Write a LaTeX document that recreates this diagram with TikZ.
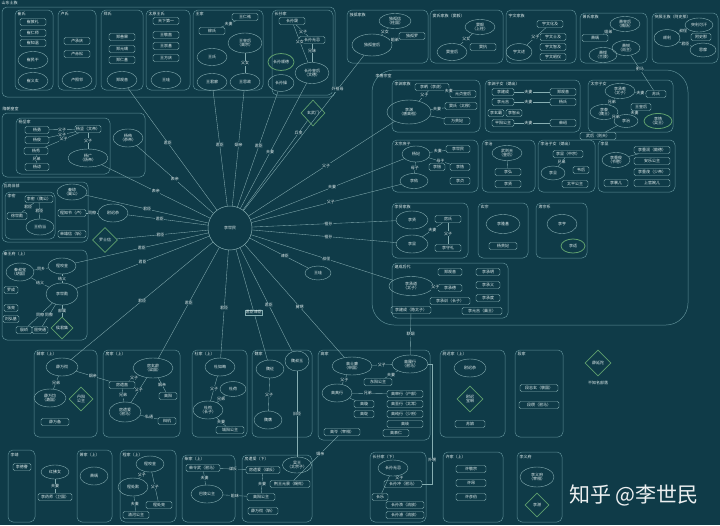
\documentclass[tikz,border=0pt]{standalone}
\usepackage{fontspec}
\usepackage{tikz}
\usetikzlibrary{
    shapes.geometric,
    positioning
}
\newfontfamily\cjk{Noto Sans CJK SC}
\newcommand\fsm{\cjk\fontsize{4}{4.8}\selectfont}
\definecolor{bgc}{HTML}{0F3B48}
\definecolor{linec}{HTML}{86AEB2}
\definecolor{grpc}{HTML}{5C8D95}
\definecolor{txtc}{HTML}{E2EEEE}
\definecolor{grnc}{HTML}{5E9F6E}
\tikzset{
    grp/.style={draw=grpc, line width=0.5pt, rounded corners=5pt},
    ttl/.style={anchor=west, text=txtc, font=\fsm, inner sep=0.5pt},
    ell/.style={ellipse, draw=linec, line width=0.4pt, minimum width=30pt, minimum height=17pt, inner sep=0.3pt, text=txtc, align=center, font=\fsm},
    gell/.style={ell, draw=grnc, line width=0.8pt},
    bx/.style={rectangle, rounded corners=1.5pt, draw=linec, line width=0.4pt, minimum width=26pt, minimum height=7pt, inner sep=0.6pt, text=txtc, align=center, font=\fsm},
    dia/.style={diamond, draw=grnc, line width=0.7pt, minimum width=25pt, minimum height=25pt, inner sep=0pt, text=txtc, align=center, font=\fsm},
    lnk/.style={draw=linec, line width=0.35pt},
    rel/.style={fill=bgc, text=txtc, inner sep=0.5pt, font=\fsm}
}

\begin{document}
\begin{tikzpicture}[x=1pt, y=-1pt]
    \fill[bgc] (0,0) rectangle (720,525);
    \useasboundingbox (0,0) rectangle (720,525);

    % top band
    \draw[grp] (2,7) rectangle (335,97);
    \node[ttl] at (1,3) {山东士族};
    \draw[grp] (15,10) rectangle (53,90);
    \node[ttl] at (17,14) {崔氏};
    \draw[grp] (58,10) rectangle (96,90);
    \node[ttl] at (60,14) {卢氏};
    \draw[grp] (101,10) rectangle (143,90);
    \node[ttl] at (103,14) {郑氏};
    \draw[grp] (146,10) rectangle (190,90);
    \node[ttl] at (148,14) {太原王氏};
    \draw[grp] (193,10) rectangle (263,90);
    \node[ttl] at (195,14) {王家};
    \draw[grp] (272,10) rectangle (333,95);
    \node[ttl] at (274,14) {长孙家};

    \draw[grp] (347,10) rectangle (428,63);
    \node[ttl] at (349,15) {独孤家族};
    \draw[grp] (430,10) rectangle (503,63);
    \node[ttl] at (432,16) {窦氏家族（窦毅）};
    \draw[grp] (506,10) rectangle (576,63);
    \node[ttl] at (508,16) {宇文家族};
    \draw[grp] (580,13) rectangle (647,63);
    \node[ttl] at (582,17) {萧氏家族};
    \draw[grp] (652,13) rectangle (718,63);
    \node[ttl] at (654,17) {突厥王族（阿史那）};

    % 李唐宗室
    \draw[grp, rounded corners=22pt] (372,70) rectangle (688,325);
    \node[ttl] at (375,76) {李唐宗室};
    \draw[grp] (392,80) rectangle (480,132);
    \node[ttl] at (394,84) {李渊家族};
    \draw[grp] (485,80) rectangle (580,132);
    \node[ttl] at (487,84) {李渊子女（嫡出）};
    \draw[grp] (588,80) rectangle (673,132);
    \node[ttl] at (590,84) {太宗子女};
    \draw[grp] (392,140) rectangle (478,192);
    \node[ttl] at (394,144) {太宗庶子};
    \draw[grp] (482,140) rectangle (535,192);
    \node[ttl] at (484,144) {李治};
    \draw[grp] (538,140) rectangle (595,192);
    \node[ttl] at (540,144) {李治子女（嫡出）};
    \draw[grp] (598,140) rectangle (675,192);
    \node[ttl] at (600,144) {李显};
    \draw[grp] (392,203) rectangle (468,258);
    \node[ttl] at (394,207) {李贤家族};
    \draw[grp] (478,203) rectangle (528,258);
    \node[ttl] at (480,207) {玄宗};
    \draw[grp] (536,203) rectangle (587,258);
    \node[ttl] at (538,207) {肃宗系};
    \draw[grp] (392,263) rectangle (508,318);
    \node[ttl] at (394,267) {建成后代};

    % left side
    \draw[grp] (2,113) rectangle (145,177);
    \node[ttl] at (2,109) {隋朝皇室};
    \draw[grp] (16,118) rectangle (110,174);
    \node[ttl] at (18,122) {杨坚家};
    \draw[grp] (2,182) rectangle (88,242);
    \node[ttl] at (3,186) {瓦岗旧部};
    \draw[grp] (5,192) rectangle (55,239);
    \node[ttl] at (7,196) {李密};
    \draw[grp] (2,250) rectangle (87,340);
    \node[ttl] at (3,254) {秦王府（上）};

    % bottom rows
    \draw[grp] (34,350) rectangle (97,437);
    \node[ttl] at (36,354) {薛家（上）};
    \draw[grp] (103,350) rectangle (180,437);
    \node[ttl] at (105,354) {房家（上）};
    \draw[grp] (192,350) rectangle (247,437);
    \node[ttl] at (194,354) {杜家（上）};
    \draw[grp] (252,350) rectangle (312,437);
    \node[ttl] at (254,354) {魏家};
    \draw[grp] (318,350) rectangle (430,440);
    \node[ttl] at (320,354) {高家};
    \draw[grp] (440,350) rectangle (505,437);
    \node[ttl] at (442,354) {尉迟家（上）};
    \draw[grp] (515,350) rectangle (563,437);
    \node[ttl] at (517,354) {段家};
    \draw[grp] (8,450) rectangle (35,522);
    \node[ttl] at (10,455) {李靖};
    \draw[grp] (77,450) rectangle (112,522);
    \node[ttl] at (79,455) {萧家（上）};
    \draw[grp] (120,450) rectangle (176,522);
    \node[ttl] at (122,455) {程家（上）};
    \draw[grp] (182,455) rectangle (235,522);
    \node[ttl] at (184,459) {柴家（上）};
    \draw[grp] (242,455) rectangle (312,522);
    \node[ttl] at (244,459) {房遗爱（下）};
    \draw[grp] (370,452) rectangle (426,522);
    \node[ttl] at (372,457) {长孙家（下）};
    \draw[grp] (443,452) rectangle (503,522);
    \node[ttl] at (445,457) {许家（上）};
    \draw[grp] (517,452) rectangle (562,522);
    \node[ttl] at (519,457) {李义府};

    % nodes
    \node[circle, draw=linec, line width=0.5pt, minimum size=44pt, text=txtc, font=\fsm] (lsm) at (230,228) {李世民};

    \node[bx] (cui1) at (33,22) {崔敦礼};
    \node[bx] (cui2) at (33,33) {崔仁师};
    \node[bx] (cui3) at (33,43) {崔知温};
    \node[ell] (cui4) at (33,60) {崔民干};
    \node[ell] (cui5) at (33,81) {崔义玄};
    \node[bx] (lu1) at (77,41) {卢承庆};
    \node[bx] (lu2) at (77,54) {卢赤松};
    \node[ell] (lu3) at (77,80) {卢照邻};
    \node[bx] (zh1) at (122,37) {郑善果};
    \node[bx] (zh2) at (122,49) {郑元璹};
    \node[bx] (zh3) at (122,60) {郑仁基};
    \node[ell] (zh4) at (122,80) {郑观音};
    \node[bx] (wa1) at (166,21) {天下第一};
    \node[bx] (wa2) at (166,35) {王敬直};
    \node[bx] (wa3) at (166,46) {王崇基};
    \node[bx] (wa4) at (166,58) {王方庆};
    \node[ell] (wa5) at (166,80) {王珪};
    \node[bx] (wj1) at (245,17) {王仁祐};
    \node[bx] (wj2) at (212,31) {柳氏};
    \node[ell, minimum width=34pt, minimum height=20pt] (wj3) at (245,43) {王皇后\\（高宗）};
    \node[ell] (wj4) at (245,82) {王思政};
    \node[ell] (wj5) at (212,57) {王氏};
    \node[ell] (wj6) at (212,82) {王君廓};
    \node[bx] (zs1) at (292,21) {长孙晟};
    \node[bx] (zs2) at (312,40) {长孙无忌};
    \node[ell, minimum width=34pt, minimum height=21pt] (zs3) at (312,73) {长孙皇后\\（文德）};
    \node[gell, minimum width=26pt] (zs4) at (281,62) {长孙顺德};
    \node[ell, minimum width=26pt] (zs5) at (281,83) {长孙操};

    \node[ell, minimum width=32pt, minimum height=15pt] (dg1) at (395,21) {独孤信\\（柱国）};
    \node[ell, minimum width=40pt, minimum height=22pt] (dg2) at (372,45) {独孤皇后};
    \node[bx] (dg3) at (412,36) {独孤罗};
    \node[ell, minimum width=30pt, minimum height=15pt] (do1) at (480,27) {窦毅\\（上柱）};
    \node[ell] (do2) at (452,52) {窦皇后};
    \node[bx] (do3) at (483,47) {窦抗};
    \node[ell, minimum width=26pt] (yw1) at (519,52) {宇文述};
    \node[bx] (yw2) at (550,24) {宇文化及};
    \node[bx] (yw3) at (553,37) {宇文士及};
    \node[bx] (yw4) at (553,47) {宇文智及};
    \node[bx] (yw5) at (553,57) {宇文昭仪};
    \node[ell, minimum width=30pt, minimum height=15pt] (xi1) at (625,24) {萧皇后\\（隋炀）};
    \node[bx] (xi2) at (595,38) {萧瑀};
    \node[ell, minimum width=28pt, minimum height=15pt] (xi3) at (626,48) {萧锐\\（尚主）};
    \node[ell, minimum width=28pt, minimum height=15pt] (xi4) at (603,55) {萧铿\\（兰陵）};
    \node[ell, minimum width=26pt] (tj1) at (667,38) {颉利};
    \node[ell, minimum width=28pt, minimum height=14pt] (tj2) at (699,25) {突利可汗};
    \node[bx, minimum width=20pt] (tj3) at (701,37) {阿史那};
    \node[ell, minimum width=26pt, minimum height=14pt] (tj4) at (703,50) {思摩};

    \node[bx, minimum width=34pt] (ly1) at (432,87) {李昞（李虎）};
    \node[ell, minimum width=44pt, minimum height=24pt] (ly2) at (409,112) {李渊\\（唐高祖）};
    \node[bx] (ly3) at (463,94) {元贞皇后};
    \node[bx, minimum width=32pt] (ly4) at (461,106) {窦氏（太穆）};
    \node[bx] (ly5) at (457,121) {万贵妃};
    \node[bx, minimum width=22pt] (lz1) at (503,92) {李建成};
    \node[bx, minimum width=22pt] (lz2) at (503,102) {李元吉};
    \node[bx, minimum width=16pt] (lz3) at (496,113) {李玄霸};
    \node[bx, minimum width=16pt] (lz4) at (514,113) {李智云};
    \node[bx, minimum width=22pt] (lz5) at (503,123) {平阳公主};
    \node[bx, minimum width=26pt] (lz6) at (563,92) {郑观音};
    \node[bx, minimum width=26pt] (lz7) at (563,102) {杨氏};
    \node[bx, minimum width=26pt] (lz8) at (563,123) {柴绍};
    \node[ell, minimum width=30pt, minimum height=15pt] (sz1) at (620,91) {李承乾\\（太子）};
    \node[bx, minimum width=20pt] (sz2) at (656,94) {苏氏};
    \node[ell, minimum width=28pt, minimum height=15pt] (sz3) at (604,112) {李泰\\（魏王）};
    \node[ell, minimum width=24pt, minimum height=13pt] (sz4) at (626,121) {李治};
    \node[gell, minimum width=28pt, minimum height=15pt] (sz5) at (658,121) {李恪\\（吴王）};
    \node[bx, minimum width=20pt] (sz6) at (641,107) {王皇后};
    \node[bx, minimum width=36pt] (wh) at (598,136) {武后（则天）};

    \node[ell, minimum width=28pt, minimum height=16pt] (ld1) at (416,154) {杨妃};
    \node[bx, minimum width=24pt] (ld2) at (458,149) {李世民};
    \node[bx, minimum width=16pt] (ld3) at (437,167) {李愔};
    \node[bx, minimum width=20pt] (ld4) at (460,167) {李恪};
    \node[ell, minimum width=28pt, minimum height=15pt] (ld5) at (414,181) {李佑};
    \node[bx, minimum width=20pt] (ld6) at (460,181) {李贞};
    \node[ell, minimum width=30pt, minimum height=15pt] (le1) at (507,153) {武则天\\（皇后）};
    \node[bx] (le2) at (508,172) {李弘};
    \node[bx] (le3) at (508,184) {李贤};
    \node[bx, minimum width=30pt] (lf1) at (568,154) {李显（中宗）};
    \node[ell, minimum width=24pt, minimum height=14pt] (lf2) at (553,173) {李旦};
    \node[bx, minimum width=16pt] (lf3) at (581,170) {韦后};
    \node[bx, minimum width=26pt] (lf4) at (575,184) {太平公主};
    \node[ell, minimum width=28pt, minimum height=15pt] (lg1) at (616,160) {李重俊\\（节愍）};
    \node[bx, minimum width=36pt] (lg2) at (652,150) {李重润（懿德）};
    \node[bx, minimum width=36pt] (lg3) at (652,161) {安乐公主};
    \node[bx, minimum width=36pt] (lg4) at (652,172) {李重茂（少帝）};
    \node[bx, minimum width=24pt] (lg5) at (616,183) {李裹儿};
    \node[bx, minimum width=36pt] (lg6) at (652,183) {上官婉儿};
    \node[ell, minimum width=32pt, minimum height=18pt] (lh1) at (412,220) {李贤};
    \node[ell, minimum width=32pt, minimum height=18pt] (lh2) at (412,244) {李显};
    \node[bx, minimum width=26pt] (lh3) at (448,219) {房氏};
    \node[bx, minimum width=26pt] (lh4) at (448,248) {李守礼};
    \node[ell, minimum width=34pt, minimum height=19pt] (li1) at (503,224) {李隆基};
    \node[bx, minimum width=28pt] (li2) at (503,246) {杨贵妃};
    \node[ell, minimum width=30pt, minimum height=19pt] (lj1) at (562,224) {李亨};
    \node[gell, minimum width=24pt, minimum height=14pt] (lj2) at (573,246) {李适};
    \node[ell, minimum width=44pt, minimum height=19pt] (lk1) at (411,286) {李承道\\（太子）};
    \node[bx, minimum width=24pt] (lk2) at (450,272) {郑观音};
    \node[bx, minimum width=24pt] (lk3) at (450,288) {李承德};
    \node[bx, minimum width=40pt] (lk4) at (450,301) {李承训（长子）};
    \node[bx, minimum width=40pt] (lk5) at (411,310) {李建成（隐太子）};
    \node[bx, minimum width=24pt] (lk6) at (488,272) {李承明};
    \node[bx, minimum width=24pt] (lk7) at (488,285) {李承义};
    \node[bx, minimum width=24pt] (lk8) at (488,298) {李承度};
    \node[bx, minimum width=40pt] (lk9) at (482,311) {李元吉（巢王）};

    \node[bx, minimum width=24pt] (sl1) at (37,130) {杨勇};
    \node[bx, minimum width=24pt] (sl2) at (37,140) {杨俊};
    \node[bx, minimum width=24pt] (sl3) at (36,151) {杨秀};
    \node[bx, minimum width=24pt] (sl4) at (37,167) {杨谅};
    \node[bx, minimum width=26pt] (sl5) at (88,129) {杨坚（文帝）};
    \node[ell, minimum width=40pt, minimum height=18pt] (sl6) at (88,158) {杨广\\（炀帝）};
    \node[ell, minimum width=30pt, minimum height=18pt] (sl7) at (128,138) {杨侑\\（恭帝）};
    \node[bx, minimum width=28pt] (wg1) at (39,199) {李密（魏公）};
    \node[bx, minimum width=20pt] (wg2) at (17,216) {徐世勣};
    \node[ell, minimum width=28pt, minimum height=16pt] (wg3) at (40,227) {王伯当};
    \node[ell, minimum width=30pt, minimum height=16pt] (wg4) at (72,192) {秦琼\\（翼公）};
    \node[bx, minimum width=28pt] (wg5) at (72,213) {程知节（卢）};
    \node[bx, minimum width=28pt] (wg6) at (72,234) {单雄信（斩）};
    \node[ell, minimum width=30pt, minimum height=18pt] (wg7) at (113,213) {尉迟恭};
    \node[dia] (wg8) at (105,240) {罗士信};
    \node[ell, minimum width=28pt, minimum height=16pt] (qw1) at (62,266) {程咬金};
    \node[ell, minimum width=28pt, minimum height=18pt] (qw2) at (20,272) {秦叔宝\\（胡国）};
    \node[ell, minimum width=32pt, minimum height=22pt] (qw3) at (62,294) {李世勣};
    \node[bx, minimum width=14pt] (qw4) at (11,290) {罗成};
    \node[bx, minimum width=14pt] (qw5) at (11,308) {张亮};
    \node[bx, minimum width=16pt] (qw6) at (11,319) {刘弘基};
    \node[bx, minimum width=16pt] (qw7) at (24,330) {殷峤};
    \node[bx, minimum width=16pt] (qw8) at (40,330) {屈突通};
    \node[dia, minimum width=22pt, minimum height=22pt] (qw9) at (62,328) {侯君集};

    \node[ell, minimum width=26pt, minimum height=14pt] (wq) at (318,273) {王珪};
    \node[dia, minimum width=24pt, minimum height=26pt] (qd) at (313,113) {玄武门};

    \node[ell, minimum width=32pt, minimum height=18pt] (xw1) at (62,367) {薛万彻};
    \node[ell, minimum width=32pt, minimum height=18pt] (xw2) at (50,398) {薛万均\\（潞国）};
    \node[dia, minimum width=24pt, minimum height=24pt] (xw3) at (81,399) {丹阳\\公主};
    \node[bx, minimum width=28pt] (xw4) at (55,422) {薛万备};
    \node[ell, minimum width=40pt, minimum height=20pt] (fx1) at (153,368) {房玄龄\\（梁国）};
    \node[bx, minimum width=26pt] (fx2) at (122,385) {房遗直};
    \node[ell, minimum width=32pt, minimum height=20pt] (fx3) at (125,412) {房遗爱\\（驸马）};
    \node[bx, minimum width=18pt] (fx4) at (168,396) {高阳};
    \node[bx, minimum width=18pt] (fx5) at (167,421) {辩机};
    \node[ell, minimum width=30pt, minimum height=18pt] (dr1) at (220,367) {杜如晦};
    \node[ell, minimum width=26pt, minimum height=15pt] (dr2) at (233,389) {杜荷};
    \node[ell, minimum width=30pt, minimum height=18pt] (dr3) at (208,410) {杜构\\（长子）};
    \node[bx, minimum width=28pt] (dr4) at (230,430) {城阳公主};
    \node[ell, minimum width=28pt, minimum height=18pt] (wz1) at (270,369) {魏征};
    \node[ell, minimum width=24pt, minimum height=20pt] (wz2) at (297,361) {魏叔玉};
    \node[ell, minimum width=28pt, minimum height=18pt] (wz3) at (268,420) {魏膺};
    \node[ell, minimum width=40pt, minimum height=18pt] (gs1) at (352,366) {高士廉\\（申国）};
    \node[ell, minimum width=36pt, minimum height=18pt] (gs2) at (410,364) {高履行\\（驸马）};
    \node[bx, minimum width=28pt] (gs3) at (378,382) {东阳公主};
    \node[ell, minimum width=30pt, minimum height=18pt] (gs4) at (337,393) {高真行};
    \node[bx, minimum width=36pt] (gs5) at (405,394) {高审行（户部）};
    \node[bx, minimum width=36pt] (gs6) at (405,404) {高至行（太常）};
    \node[bx, minimum width=36pt] (gs7) at (405,414) {高纯行（少府）};
    \node[bx, minimum width=36pt] (gs8) at (405,424) {高岐};
    \node[bx, minimum width=20pt] (gs9) at (364,404) {高璇};
    \node[bx, minimum width=20pt] (gs10) at (364,414) {高琁};
    \node[bx, minimum width=36pt] (gs11) at (342,432) {高岑（宰相）};
    \node[bx, minimum width=26pt] (gs12) at (396,433) {高表仁};
    \node[ell, minimum width=32pt, minimum height=18pt] (yc1) at (470,368) {尉迟恭};
    \node[dia, minimum width=26pt, minimum height=26pt] (yc2) at (470,399) {尉迟\\宝琳};
    \node[bx, minimum width=30pt] (yc3) at (470,424) {苏娘};
    \node[bx, minimum width=38pt] (dz1) at (539,388) {段志玄（褒国）};
    \node[bx, minimum width=40pt] (dz2) at (539,405) {段瓒（驸马）};
    \node[dia, minimum width=26pt, minimum height=26pt] (ps) at (598,363) {薛延陀};
    \node[text=txtc, font=\fsm, below=1pt of ps] (psl) {不知名部落};

    \node[bx, minimum width=18pt] (v1) at (22,467) {李德謇};
    \node[ell, minimum width=28pt, minimum height=14pt] (v2) at (55,472) {红拂女};
    \node[bx, minimum width=34pt] (v3) at (55,497) {李药师（卫国）};
    \node[ell, minimum width=28pt, minimum height=18pt] (v4) at (94,476) {萧瑀};
    \node[ell, minimum width=28pt, minimum height=16pt] (v5) at (150,464) {程咬金};
    \node[ell, minimum width=30pt, minimum height=18pt] (v6) at (133,487) {程处默};
    \node[bx, minimum width=26pt] (v7) at (159,505) {程处亮};
    \node[bx, minimum width=26pt] (v8) at (136,515) {清河公主};
    \node[bx, minimum width=34pt] (v9) at (203,468) {柴令武（驸马）};
    \node[ell, minimum width=32pt, minimum height=18pt] (v10) at (207,494) {巴陵公主};
    \node[bx, minimum width=34pt] (v11) at (263,470) {房遗爱（谋反）};
    \node[bx, minimum width=28pt] (v12) at (261,497) {高阳公主};
    \node[bx, minimum width=40pt] (v13) at (290,484) {荆王元景（赐死）};
    \node[bx, minimum width=30pt] (v14) at (263,511) {薛万彻（斩）};
    \node[ell, minimum width=28pt, minimum height=16pt] (v15) at (297,465) {吴王\\（太宗子）};
    \node[ell, minimum width=30pt, minimum height=16pt] (v16) at (393,468) {长孙无忌};
    \node[bx, minimum width=38pt] (v17) at (403,484) {长孙冲（驸马）};
    \node[bx, minimum width=16pt] (v18) at (380,497) {长乐};
    \node[bx, minimum width=38pt] (v19) at (405,505) {长孙涣（流放）};
    \node[bx, minimum width=38pt] (v20) at (405,515) {长孙濬（流放）};
    \node[bx, minimum width=30pt] (v21) at (471,469) {许敬宗};
    \node[bx, minimum width=30pt] (v22) at (471,483) {许昂};
    \node[bx, minimum width=30pt] (v23) at (471,497) {许彦伯};
    \node[ell, minimum width=34pt, minimum height=20pt] (v24) at (537,477) {李义府\\（宰相）};
    \node[dia, minimum width=24pt, minimum height=24pt] (v25) at (537,505) {李湛};

    \node[text=white, font=\cjk\fontsize{21}{24}\selectfont, opacity=0.92] (wm) at (634,495) {知乎 @李世民};

    % links inside groups
    \draw[lnk] (wj2) -- (wj1) node[rel, pos=0.5] {夫妻};
    \draw[lnk] (wj3) -- (wj4) node[rel, pos=0.5] {父女};
    \draw[lnk] (zs1) -- (zs2) node[rel, pos=0.6] {父子};
    \draw[lnk] (zs2) -- (zs3) node[rel, pos=0.4] {兄妹};
    \draw[lnk] (zs1) -- (zs3) node[rel, pos=0.45] {父女};
    \draw[lnk] (dg1) -- (dg2) node[rel, pos=0.5] {父女};
    \draw[lnk] (dg2) -- (dg3) node[rel, pos=0.5] {姐弟};
    \draw[lnk] (do1) -- (do2) node[rel, pos=0.5] {父女};
    \draw[lnk] (yw1) -- (yw2) node[rel, pos=0.45] {父子};
    \draw[lnk] (xi1) -- (xi2) node[rel, pos=0.5] {姐弟};
    \draw[lnk] (tj1) -- (tj2) node[rel, pos=0.5] {叔侄};
    \draw[lnk] (tj1) -- (tj4) node[rel, pos=0.5] {君臣};
    \draw[lnk] (xi3) -- (sz2) node[rel, pos=0.4] {驸马};
    \draw[lnk] (ly1) -- (ly2) node[rel, pos=0.45] {父子};
    \draw[lnk] (ly1) -- (ly3) node[rel, pos=0.4] {夫妻};
    \draw[lnk] (ly2) -- (ly4) node[rel, pos=0.45] {夫妻};
    \draw[lnk] (ly2) -- (ly5);
    \draw[lnk] (lz1) -- (lz6) node[rel, pos=0.4] {夫妻};
    \draw[lnk] (lz2) -- (lz7) node[rel, pos=0.4] {夫妻};
    \draw[lnk] (lz5) -- (lz8) node[rel, pos=0.4] {夫妻};
    \draw[lnk] (sz1) -- (sz2) node[rel, pos=0.5] {夫妻};
    \draw[lnk] (sz1) -- (sz3) node[rel, pos=0.5] {兄弟};
    \draw[lnk] (sz3) -- (sz4) node[rel, pos=0.5] {兄弟};
    \draw[lnk] (sz4) -- (sz6) node[rel, pos=0.5] {夫妻};
    \draw[lnk] (sz4) -- (wh);
    \draw[lnk] (ld1) -- (ld2) node[rel, pos=0.5] {夫妻};
    \draw[lnk] (ld1) -- (ld4) node[rel, pos=0.55] {母子};
    \draw[lnk] (ld1) -- (ld5) node[rel, pos=0.5] {母子};
    \draw[lnk] (le1) -- (le2);
    \draw[lnk] (lf1) -- (lf2) node[rel, pos=0.5] {兄弟};
    \draw[lnk] (lg1) -- (lg2);
    \draw[lnk] (lh2) -- (lh3) node[rel, pos=0.5] {夫妻};
    \draw[lnk] (lh3) -- (lh4) node[rel, pos=0.5] {父子};
    \draw[lnk] (lk1) -- (lk3) node[rel, pos=0.5] {父子};
    \draw[lnk] (lk5) -- (gs2) node[rel, pos=0.5] {联姻};
    \draw[lnk] (sl1) -- (sl5) node[rel, pos=0.5] {父子};
    \draw[lnk] (sl2) -- (sl5) node[rel, pos=0.5] {父子};
    \draw[lnk] (sl3) -- (sl5) node[rel, pos=0.55] {父子};
    \draw[lnk] (sl5) -- (sl6) node[rel, pos=0.5] {父子};
    \draw[lnk] (sl3) -- (sl4) node[rel, pos=0.5] {兄弟};
    \draw[lnk] (wg1) -- (wg2) node[rel, pos=0.5] {君臣};
    \draw[lnk] (wg1) -- (wg3) node[rel, pos=0.5] {君臣};
    \draw[lnk] (wg5) -- (wg7) node[rel, pos=0.5] {同僚};
    \draw[lnk] (qw2) -- (qw1) node[rel, pos=0.5] {同乡};
    \draw[lnk] (qw2) -- (qw3) node[rel, pos=0.5] {结义};
    \draw[lnk] (qw1) -- (qw3) node[rel, pos=0.5] {结义};
    \draw[lnk] (qw3) -- (qw7) node[rel, pos=0.5] {同僚};
    \draw[lnk] (qw3) -- (qw8) node[rel, pos=0.5] {同僚};
    \draw[lnk] (qw3) -- (qw9) node[rel, pos=0.5] {部属};
    \draw[lnk] (xw1) -- (xw2) node[rel, pos=0.5] {兄弟};
    \draw[lnk] (xw1) -- (fx2) node[rel, pos=0.5] {姻亲};
    \draw[lnk] (fx1) -- (fx2) node[rel, pos=0.5] {父子};
    \draw[lnk] (fx2) -- (fx3) node[rel, pos=0.5] {兄弟};
    \draw[lnk] (fx1) -- (fx3) node[rel, pos=0.5] {父子};
    \draw[lnk] (fx1) -- (fx4) node[rel, pos=0.5] {姻亲};
    \draw[lnk] (fx3) -- (fx5) node[rel, pos=0.5] {私通};
    \draw[lnk] (dr1) -- (dr3) node[rel, pos=0.5] {父子};
    \draw[lnk] (dr2) -- (dr3) node[rel, pos=0.5] {兄弟};
    \draw[lnk] (dr3) -- (dr4) node[rel, pos=0.5] {夫妻};
    \draw[lnk] (wz1) -- (wz3) node[rel, pos=0.5] {父子};
    \draw[lnk] (wz2) -- (v15) node[rel, pos=0.5] {旧臣};
    \draw[lnk] (gs1) -- (gs2) node[rel, pos=0.5] {父子};
    \draw[lnk] (gs2) -- (gs3) node[rel, pos=0.5] {夫妻};
    \draw[lnk] (gs1) -- (gs4) node[rel, pos=0.5] {父子};
    \draw[lnk] (gs4) -- (gs5) node[rel, pos=0.45] {兄弟};
    \draw[lnk] (gs4) -- (gs9);
    \draw[lnk] (gs2.east) -- ++(4,0) |- (v17.east) node[rel, pos=0.4] {外甥};
    \draw[lnk] (gs11) -- (v13) node[rel, pos=0.4] {姻亲};
    \draw[lnk] (v2) -- (v3) node[rel, pos=0.5] {夫妻};
    \draw[lnk] (v5) -- (v6) node[rel, pos=0.5] {父子};
    \draw[lnk] (v5) -- (v7) node[rel, pos=0.5] {父子};
    \draw[lnk] (v6) -- (v8) node[rel, pos=0.5] {夫妻};
    \draw[lnk] (v9) -- (v10) node[rel, pos=0.5] {夫妻};
    \draw[lnk] (v9) -- (v11) node[rel, pos=0.5] {谋反};
    \draw[lnk] (v10) -- (v12) node[rel, pos=0.5] {姐妹};
    \draw[lnk] (v11) -- (v12) node[rel, pos=0.5] {夫妻};
    \draw[lnk] (v16) -- (v17) node[rel, pos=0.5] {父子};
    \draw[lnk] (v16) -- (v18);

    % links from the centre
    \draw[lnk] (lsm) -- (zh4) node[rel, pos=0.55] {君臣};
    \draw[lnk] (lsm) -- (wj6) node[rel, pos=0.53] {君臣};
    \draw[lnk] (lsm) -- (wj4) node[rel, pos=0.53] {姻亲};
    \draw[lnk] (lsm) -- (zs5) node[rel, pos=0.53] {君臣};
    \draw[lnk] (lsm) -- (zs3) node[rel, pos=0.45] {夫妻};
    \draw[lnk] (lsm) -- (qd) node[rel, pos=0.86] {兵变};
    \draw[lnk] (lsm) -- (dg2) node[rel, pos=0.78] {外祖母};
    \draw[lnk] (lsm) -- (ly2) node[rel, pos=0.53] {父子};
    \draw[lnk] (lsm) -- (ld1) node[rel, pos=0.53] {夫妻};
    \draw[lnk] (lsm) -- (ld5) node[rel, pos=0.53] {父子};
    \draw[lnk] (lsm) -- (lh1) node[rel, pos=0.53] {祖孙};
    \draw[lnk] (lsm) -- (lh2) node[rel, pos=0.53] {祖孙};
    \draw[lnk] (lsm) -- (lk1) node[rel, pos=0.53] {叔侄};
    \draw[lnk] (lsm) -- (wq) node[rel, pos=0.6] {谏臣};
    \draw[lnk] (lsm) -- (gs1) node[rel, pos=0.55] {舅甥};
    \draw[lnk] (lsm) -- (wz2) node[rel, pos=0.55] {君臣};
    \draw[lnk] (lsm) -- (wz1) node[rel, draw=linec, pos=0.57] {君臣谏臣};
    \draw[lnk] (lsm) -- (dr1) node[rel, pos=0.54] {君臣};
    \draw[lnk] (lsm) -- (fx1) node[rel, pos=0.5] {君臣};
    \draw[lnk] (lsm) -- (xw1) node[rel, pos=0.5] {君臣};
    \draw[lnk] (lsm) -- (qw3) node[rel, pos=0.5] {君臣};
    \draw[lnk] (lsm) -- (qw1) node[rel, pos=0.5] {君臣};
    \draw[lnk] (lsm) -- (wg8) node[rel, pos=0.52] {君臣};
    \draw[lnk] (lsm) -- (wg7) node[rel, pos=0.6] {君臣};
    \draw[lnk] (lsm) -- (wg4) node[rel, pos=0.5] {君臣};
    \draw[lnk] (lsm) -- (sl6) node[rel, pos=0.5] {表亲};
    \draw[lnk] (lsm) -- (sl7) node[rel, pos=0.5] {表亲};
\end{tikzpicture}
\end{document}
